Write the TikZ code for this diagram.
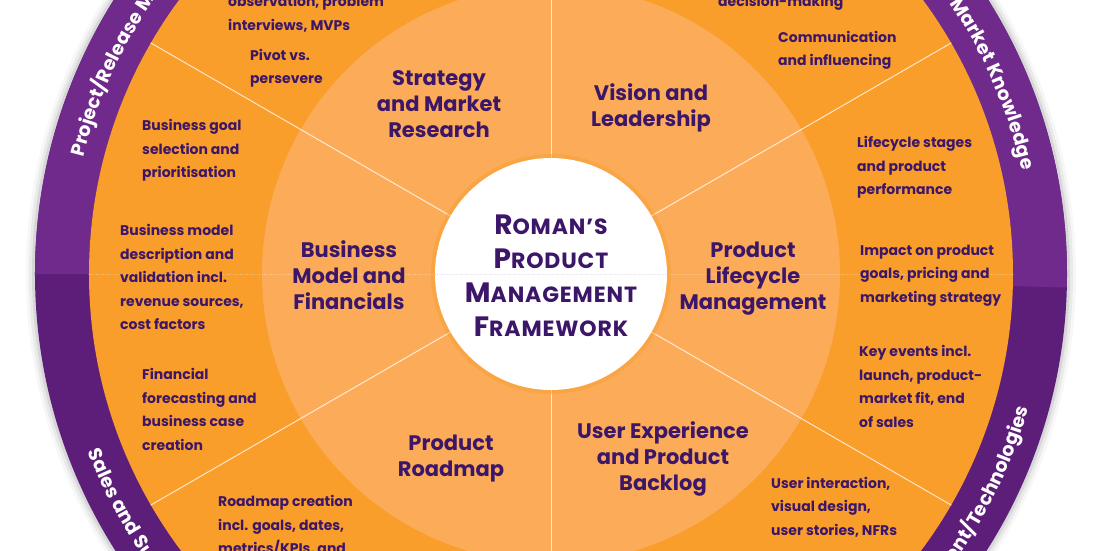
\documentclass[tikz,border=0pt]{standalone}
\usepackage{fontspec}
\setmainfont{Poppins}
\newfontfamily\titlefont{Poppins}[LetterSpace=4]
\usetikzlibrary{decorations.text}

\definecolor{ringpurple}{RGB}{111,42,139}
\definecolor{ringpurpledark}{RGB}{93,30,122}
\definecolor{ringorange}{RGB}{249,157,43}
\definecolor{coreorange}{RGB}{252,172,89}
\definecolor{labelpurple}{RGB}{60,22,104}

\newcommand\capinit[1]{{\fontsize{28}{34}\selectfont #1}}

\tikzset{
	arealabel/.style={font=\bfseries\fontsize{21}{26}\selectfont, text=labelpurple, align=center, inner sep=0pt},
	topiclabel/.style={font=\bfseries\fontsize{14}{23.5}\selectfont, text=labelpurple, align=left, anchor=west, inner sep=0pt},
	titlelabel/.style={font=\titlefont\bfseries\fontsize{22}{34}\selectfont, text=labelpurple, align=center, inner sep=0pt},
	spoke/.style={white, opacity=0.75, line width=1pt},
	ringtext/.style={decorate, decoration={text along path, text color=white,
			text format delimiters={|}{|}, text align=#1}},
}

\begin{document}
\begin{tikzpicture}[x=1pt, y=1pt, line cap=round, line join=round]
	
	% ----------------------------
	% 0) Canvas (circle centre at origin)
	% ----------------------------
	\useasboundingbox[fill=white] (-551,-276) rectangle (559,274);
	\def\rcore{116}
	\def\rmid{289}
	\def\rring{462}
	\def\rout{516}
	
	% ----------------------------
	% 1) Shadow and purple ring
	% ----------------------------
	\foreach \r/\o in {525/0.03, 522/0.05, 519/0.08}{
		\fill[black, opacity=\o] (0,0) circle (\r);
	}
	\fill[ringpurpledark] (0,0) circle (\rout);
	\fill[ringpurple] (-1.5:\rout) arc[start angle=-1.5, end angle=180, radius=\rout]
	-- (180:\rring) arc[start angle=180, end angle=-1.5, radius=\rring] -- cycle;
	
	% ----------------------------
	% 2) Orange rings and white core
	% ----------------------------
	\fill[ringorange] (0,0) circle (\rring);
	\fill[coreorange] (0,0) circle (\rmid);
	\draw[white, dotted, opacity=0.5] (180:\rring) -- (180:\rcore);
	\draw[white, dotted, opacity=0.5] (0:\rcore) -- (0:\rring);
	\foreach \a in {30,90,...,330}{
		\draw[spoke] (\a:\rcore) -- (\a:\rring);
	}
	\fill[ringorange, opacity=0.45] (0,0) circle (\rcore+4);
	\fill[white] (0,0) circle (\rcore);
	\draw[labelpurple!20, dotted] (180:\rcore) -- (0:\rcore);
	
	% ----------------------------
	% 3) Centre title
	% ----------------------------
	\node[titlelabel] (core) at (0,-2)
	{\capinit{R}OMAN’S\\\capinit{P}RODUCT\\\capinit{M}ANAGEMENT\\\capinit{F}RAMEWORK};
	
	% ----------------------------
	% 4) Six areas
	% ----------------------------
	\node[arealabel] (strategy)  at (-112,170) {Strategy\\and Market\\Research};
	\node[arealabel] (vision)    at (100,166)  {Vision and\\Leadership};
	\node[arealabel] (bizmodel)  at (-202,-1)  {Business\\Model and\\Financials};
	\node[arealabel] (lifecycle) at (202,-5)   {Product\\Lifecycle\\Management};
	\node[arealabel] (roadmap)   at (-100,-185) {Product\\Roadmap};
	\node[arealabel] (ux)        at (112,-185) {User Experience\\and Product\\Backlog};
	
	% ----------------------------
	% 5) Topics in the outer ring
	% ----------------------------
	\node[topiclabel] (observe)  at (-323,260)  {observation, problem\\interviews, MVPs};
	\node[topiclabel] (pivot)    at (-301,205.5) {Pivot vs.\\persevere};
	\node[topiclabel] (goals)    at (-409,123.7) {Business goal\\selection and\\prioritisation};
	\node[topiclabel] (model)    at (-431,-3)   {Business model\\description and\\validation incl.\\revenue sources,\\cost factors};
	\node[topiclabel] (forecast) at (-409,-135.5) {Financial\\forecasting and\\business case\\creation};
	\node[topiclabel] (creation) at (-333,-252) {Roadmap creation\\incl. goals, dates,\\metrics/KPIs, and};
	\node[topiclabel] (decide)   at (167,271)   {decision-making};
	\node[topiclabel] (comms)    at (227,223.5) {Communication\\and influencing};
	\node[topiclabel] (stages)   at (306,106.7) {Lifecycle stages\\and product\\performance};
	\node[topiclabel] (impact)   at (309,-1.5)  {Impact on product\\goals, pricing and\\marketing strategy};
	\node[topiclabel] (events)   at (308,-112.5) {Key events incl.\\launch, product-\\market fit, end\\of sales};
	\node[topiclabel] (interact) at (220,-233) {User interaction,\\visual design,\\user stories, NFRs};
	
	% ----------------------------
	% 6) Texts on the purple ring
	% ----------------------------
	\path[ringtext=left, decoration={text={|\bfseries\fontsize{19}{19}\selectfont|Project/Release Management}}]
	(166:482) arc[start angle=166, end angle=100, radius=482];
	\path[ringtext=right, decoration={text={|\bfseries\fontsize{19}{19}\selectfont|Market Knowledge}}]
	(80:482) arc[start angle=80, end angle=12.4, radius=482];
	\path[ringtext=left, decoration={text={|\bfseries\fontsize{19}{19}\selectfont|Sales and Support}}]
	(201:496) arc[start angle=201, end angle=260, radius=496];
	\path[ringtext=right, decoration={text={|\bfseries\fontsize{19}{19}\selectfont|Development/Technologies}}]
	(280:496) arc[start angle=280, end angle=344.3, radius=496];
	
\end{tikzpicture}
\end{document}
